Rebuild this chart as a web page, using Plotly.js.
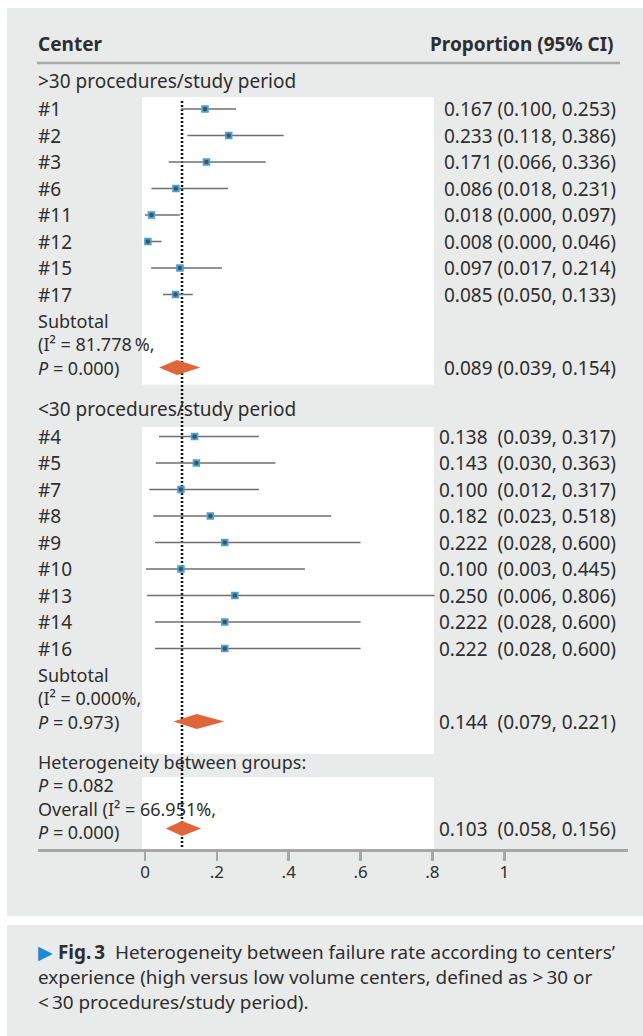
<!DOCTYPE html>
<html>
<head>
<meta charset="utf-8">
<script src="https://cdn.plot.ly/plotly-3.0.1.min.js"></script>
<style>html,body{margin:0;padding:0;background:#fff;}#chart{width:643px;height:1036px;}</style>
</head>
<body>
<div id="chart"></div>
<script>
// ---------------- data ----------------
const groupLabels = ['>30 procedures/study period', '<30 procedures/study period'];
const centers1 = ['#1', '#2', '#3', '#6', '#11', '#12', '#15', '#17'];
const est1 = [0.167, 0.233, 0.171, 0.086, 0.018, 0.008, 0.097, 0.085];
const lo1  = [0.100, 0.118, 0.066, 0.018, 0.000, 0.000, 0.017, 0.050];
const hi1  = [0.253, 0.386, 0.336, 0.231, 0.097, 0.046, 0.214, 0.133];
const centers2 = ['#4', '#5', '#7', '#8', '#9', '#10', '#13', '#14', '#16'];
const est2 = [0.138, 0.143, 0.100, 0.182, 0.222, 0.100, 0.250, 0.222, 0.222];
const lo2  = [0.039, 0.030, 0.012, 0.023, 0.028, 0.003, 0.006, 0.028, 0.028];
const hi2  = [0.317, 0.363, 0.317, 0.518, 0.600, 0.445, 0.806, 0.600, 0.600];
const subtotalEst = [0.089, 0.144];
const subtotalLo  = [0.039, 0.079];
const subtotalHi  = [0.154, 0.221];
const subtotalI2  = ['81.778\u202f%', '0.000%'];
const subtotalP   = ['0.000', '0.973'];
const overallEst = 0.103, overallLo = 0.058, overallHi = 0.156;
const overallI2 = '66.951%', overallP = '0.000', betweenP = '0.082';
const tickVals = [0, 0.2, 0.4, 0.6, 0.8, 1];
const tickText = ['0', '.2', '.4', '.6', '.8', '1'];
const headerLeft = 'Center', headerRight = 'Proportion (95% CI)';
const captionLines = [
  '<span style="color:#1b8bd0">\u25B6</span>\u00a0<b>Fig.\u202f3</b>\u00a0 Heterogeneity between failure rate according to centers\u2019',
  'experience (high versus low volume centers, defined as\u00a0>\u202f30 or',
  '<\u202f30 procedures/study period).'
];

// ---------------- layout helpers ----------------
const W = 643, H = 1036;
const PL = 38, PR = 628, PB = 849;      // plot area in px
const X0PX = 145, UNIT = 359.3;          // x=0 position and px per unit
const px2x = p => (p - PL) / (PR - PL);  // paper x
const py2y = p => (PB - p) / PB;         // paper y (plot area top = 0px)
const TXT = '#2e2e2e';
const FONT = 'Noto Sans, Open Sans, Liberation Sans, sans-serif';
const FS = 19, FSB = 18;                 // row text, multi-line blocks
const LH = FSB * 1.3;                    // plotly line spacing in blocks

const STEP = 26.5;
const groups = [
  {centers: centers1, est: est1, lo: lo1, hi: hi1, sep: ' '},
  {centers: centers2, est: est2, lo: lo2, hi: hi2, sep: '\u00a0 '}
];
const fmt = (e, l, h, sep) => e.toFixed(3) + sep + '(' + l.toFixed(3) + ', ' + h.toFixed(3) + ')';

const annotations = [];
const shapes = [];
function leftText(text, py, bold, size) {
  annotations.push({xref: 'paper', yref: 'paper', x: px2x(36), y: py2y(py), xanchor: 'left', yanchor: 'middle',
    align: 'left', text: bold ? '<b>' + text + '</b>' : text, showarrow: false,
    font: {family: FONT, size: size || FS, color: TXT}});
}
function rightText(text, py, bold, rx) {
  annotations.push({xref: 'paper', yref: 'paper', x: px2x(rx || 618), y: py2y(py), xanchor: 'right', yanchor: 'middle',
    text: bold ? '<b>' + text + '</b>' : text, showarrow: false, font: {family: FONT, size: FS, color: TXT}});
}
function rect(x0, x1, y0, y1, color) {
  shapes.push({type: 'rect', xref: 'paper', yref: 'paper', layer: 'below',
    x0: px2x(x0), x1: px2x(x1), y0: py2y(y1), y1: py2y(y0), fillcolor: color, line: {width: 0}});
}

// background panels
rect(7, 643, 8, 916, '#e9eaea');
rect(7, 643, 925, 1036, '#e9eaea');
shapes.push({type: 'line', xref: 'paper', yref: 'paper', layer: 'below',
  x0: px2x(37), x1: px2x(620), y0: py2y(63), y1: py2y(63), line: {color: '#a8a8a8', width: 2.5}});

leftText(headerLeft, 44, true);
rightText(headerRight, 44, true, 616);

// ---------------- compute rows ----------------
const ciX = [], ciY = [], ptX = [], ptY = [];
const diamonds = [];
let y = 81;
const headerYs = [];
let firstStudyY = null;
groups.forEach((g, gi) => {
  headerYs.push(y);
  leftText(groupLabels[gi], y);
  y += 28;
  if (firstStudyY === null) firstStudyY = y;
  g.centers.forEach((c, i) => {
    if (i > 0) y += STEP;
    leftText(c, y);
    rightText(fmt(g.est[i], g.lo[i], g.hi[i], g.sep), y);
    ciX.push(g.lo[i], g.hi[i], null); ciY.push(y, y, null);
    ptX.push(g.est[i]); ptY.push(y);
  });
  y += 73;  // last line of subtotal block
  leftText('Subtotal<br>(I\u00b2 = ' + subtotalI2[gi] + ',<br><i>P</i> = ' + subtotalP[gi] + ')', y - LH, false, FSB);
  rightText(fmt(subtotalEst[gi], subtotalLo[gi], subtotalHi[gi], g.sep), y);
  diamonds.push({lo: subtotalLo[gi], est: subtotalEst[gi], hi: subtotalHi[gi], y: y});
  if (gi === 0) y += 41;
});
y += 107;  // overall row
const hetY = y - 63;
leftText('Heterogeneity between groups:<br><i>P</i> = ' + betweenP + '<br>Overall (I\u00b2 = ' + overallI2 +
  ',<br><i>P</i> = ' + overallP + ')', y - 32, false, FSB);
rightText(fmt(overallEst, overallLo, overallHi, groups[1].sep), y);
diamonds.push({lo: overallLo, est: overallEst, hi: overallHi, y: y});

// white plotting regions
const WX0 = 142, WX1 = 434;
rect(WX0, WX1, headerYs[0] + 16, headerYs[1] - 24, '#ffffff');
rect(WX0, WX1, headerYs[1] + 18.5, hetY - 11.5, '#ffffff');
rect(WX0, WX1, hetY + 11.5, PB, '#ffffff');

// caption
captionLines.forEach((t, i) => {
  annotations.push({xref: 'paper', yref: 'paper', x: px2x(36), y: py2y(952 + i * 25), xanchor: 'left', yanchor: 'middle',
    text: t, showarrow: false, font: {family: FONT, size: 18.9, color: TXT}});
});

// ---------------- traces ----------------
const traces = [];
traces.push({x: [overallEst, overallEst], y: [firstStudyY - 8, PB], mode: 'lines',
  line: {color: '#111111', width: 2.5, dash: '2px,2px'}, hoverinfo: 'skip'});
traces.push({x: ciX, y: ciY, mode: 'lines', line: {color: '#6f6f6f', width: 1.5}, connectgaps: false, hoverinfo: 'skip'});
traces.push({x: ptX, y: ptY, mode: 'markers', marker: {symbol: 'square', size: 7.5, color: '#41a5dc', line: {width: 0}}, hoverinfo: 'skip'});
traces.push({x: ptX, y: ptY, mode: 'markers', marker: {symbol: 'circle', size: 4.5, color: '#4f4f4f', line: {width: 0}}, hoverinfo: 'skip'});
const DH = 7.5;
diamonds.forEach(d => {
  traces.push({x: [d.lo, d.est, d.hi, d.est, d.lo], y: [d.y, d.y - DH, d.y, d.y + DH, d.y],
    mode: 'lines', fill: 'toself', fillcolor: '#df653a', line: {width: 0, color: '#df653a'}, hoverinfo: 'skip'});
});

const layout = {
  width: W, height: H,
  margin: {l: PL, r: W - PR, t: 0, b: H - PB, pad: 0},
  paper_bgcolor: '#ffffff', plot_bgcolor: 'rgba(0,0,0,0)',
  showlegend: false, hovermode: false,
  font: {family: FONT, color: TXT},
  xaxis: {range: [(PL - X0PX) / UNIT, (PR - X0PX) / UNIT], showgrid: false, zeroline: false,
    showline: true, linecolor: '#a6a6a6', linewidth: 2.5,
    ticks: 'outside', ticklen: 9, tickwidth: 2.5, tickcolor: '#a6a6a6',
    tickmode: 'array', tickvals: tickVals, ticktext: tickText, ticklabelstandoff: -3,
    tickfont: {family: FONT, size: 17, color: TXT}, fixedrange: true},
  yaxis: {range: [PB, 0], visible: false, fixedrange: true},
  shapes: shapes, annotations: annotations
};
Plotly.newPlot('chart', traces, layout, {staticPlot: true, displayModeBar: false});
</script>
</body>
</html>
